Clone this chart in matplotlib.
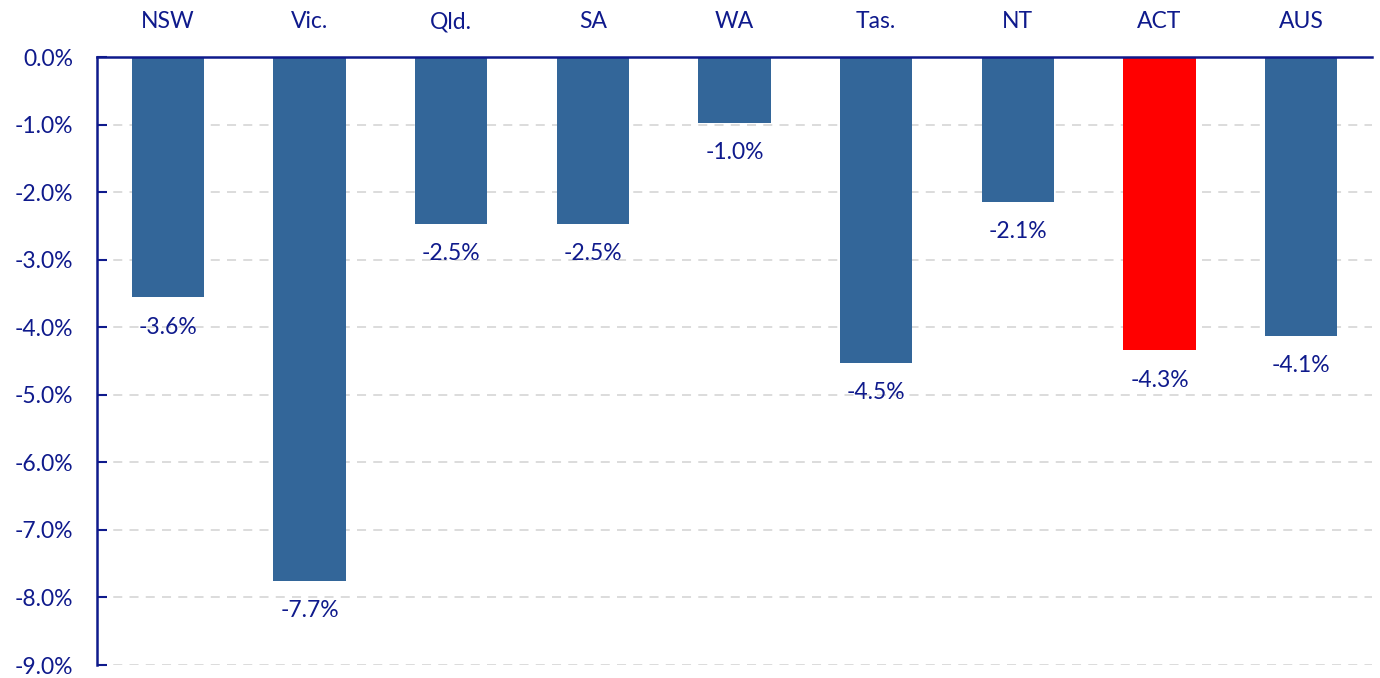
import matplotlib
matplotlib.use('Agg')
import matplotlib.pyplot as plt
import numpy as np
from matplotlib.ticker import FuncFormatter, MultipleLocator

states = ['NSW', 'Vic.', 'Qld.', 'SA', 'WA', 'Tas.', 'NT', 'ACT', 'AUS']
change = [-3.56, -7.75, -2.47, -2.47, -0.97, -4.53, -2.14, -4.34, -4.13]
labels = ['-3.6%', '-7.7%', '-2.5%', '-2.5%', '-1.0%', '-4.5%', '-2.1%', '-4.3%', '-4.1%']
highlight = 'ACT'

navy = '#0f1a8c'
blue = '#336699'
red = '#ff0000'

plt.rcParams['font.family'] = ['Lato', 'DejaVu Sans']

fig = plt.figure(figsize=(13.8, 6.78), dpi=100)
ax = fig.add_axes([97 / 1380, 1 - 665 / 678, 1275 / 1380, (665 - 57) / 678])

x = np.arange(len(states))
colors = [red if s == highlight else blue for s in states]
bars = ax.bar(x, change, width=0.51, color=colors, zorder=3)

for b, v, lab in zip(bars, change, labels):
    ax.annotate(lab, (b.get_x() + b.get_width() / 2, v), xytext=(0, -14),
                textcoords='offset points', ha='center', va='top',
                fontsize=16.5, color=navy)

ax.set_xlim(-0.5, len(states) - 0.5)
ax.set_ylim(-9, 0)
ax.yaxis.set_major_locator(MultipleLocator(1))
ax.yaxis.set_major_formatter(FuncFormatter(lambda v, p: f'{v:.1f}%'))
ax.grid(axis='y', color='#d9d9d9', linestyle=(0, (5, 4)), linewidth=1.3, zorder=0)

ax.xaxis.tick_top()
ax.set_xticks(x)
ax.set_xticklabels(states)
ax.tick_params(axis='x', length=0, pad=18, labelsize=16.5, labelcolor=navy)
ax.tick_params(axis='y', direction='in', length=7, width=1.5, color=navy,
               pad=17, labelsize=16.5, labelcolor=navy)

for side in ['right', 'bottom']:
    ax.spines[side].set_visible(False)
for side in ['left', 'top']:
    ax.spines[side].set_color(navy)
    ax.spines[side].set_linewidth(1.8)
ax.spines['top'].set_zorder(4)

fig.savefig('out.png', dpi=100)
